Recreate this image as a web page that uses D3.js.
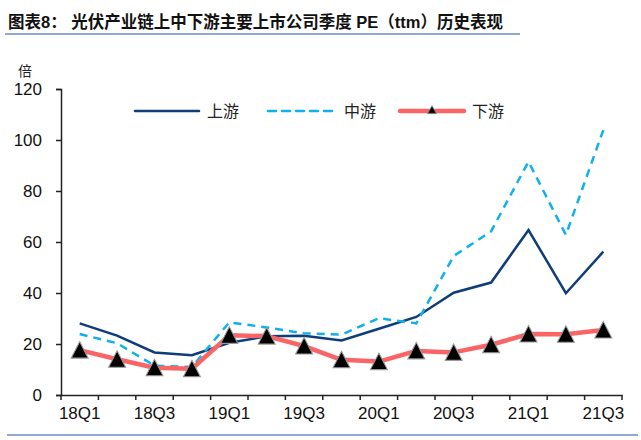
<!DOCTYPE html>
<html>
<head>
<meta charset="utf-8">
<script src="https://cdn.jsdelivr.net/npm/d3@7"></script>
<style>
  body { margin: 0; background: #fff; }
  svg { display: block; }
</style>
</head>
<body>
<div id="chart"></div>
<script>
// Données
const quarters = ["18Q1","18Q2","18Q3","18Q4","19Q1","19Q2","19Q3","19Q4","20Q1","20Q2","20Q3","20Q4","21Q1","21Q2","21Q3"];
const upstream   = [28.1, 23.3, 16.7, 15.6, 20.5, 23.0, 23.2, 21.4, 26.0, 30.6, 40.1, 44.1, 64.7, 39.9, 56.2];
const midstream  = [23.9, 20.3, 11.5, 11.0, 28.5, 26.5, 24.2, 23.7, 30.1, 28.1, 54.5, 64.2, 91.5, 62.8, 103.9];
const downstream = [17.6, 14.0, 10.7, 10.3, 23.4, 23.1, 19.2, 13.8, 13.1, 17.3, 16.7, 19.7, 23.9, 23.8, 25.5];
const yTicks = [0, 20, 40, 60, 80, 100, 120];
const seriesNames = ["上游", "中游", "下游"];

const width = 641, height = 440;
const svg = d3.select("#chart").append("svg")
    .attr("width", width)
    .attr("height", height);

const x = d3.scaleBand().domain(quarters).range([61, 622]);
const y = d3.scaleLinear().domain([0, 120]).range([395, 89]);
const cx = d => x(d) + x.bandwidth() / 2;

// Titre
svg.append("text")
    .attr("x", 8)
    .attr("y", 28)
    .style("font-family", "'Liberation Sans', 'Noto Sans CJK SC', sans-serif")
    .style("font-weight", "bold")
    .style("font-size", "16.5px")
    .attr("fill", "#111")
    .text("图表8：  光伏产业链上中下游主要上市公司季度 PE（ttm）历史表现");

svg.append("line")
    .attr("x1", 5).attr("x2", 520)
    .attr("y1", 34).attr("y2", 34)
    .attr("stroke", "#6b8cc0").attr("stroke-width", 1.5);

svg.append("line")
    .attr("x1", 7).attr("x2", 638)
    .attr("y1", 435).attr("y2", 435)
    .attr("stroke", "#6b8cc0").attr("stroke-width", 1.5);

// Unité
svg.append("text")
    .attr("x", 25).attr("y", 76)
    .attr("text-anchor", "middle")
    .style("font-family", "'Noto Sans CJK SC', sans-serif")
    .style("font-size", "14px")
    .attr("fill", "#222")
    .text("倍");

// Axe Y
const yAxis = svg.append("g")
    .attr("transform", "translate(61,0)")
    .call(d3.axisLeft(y).tickValues(yTicks).tickSize(5).tickPadding(14));
yAxis.select(".domain").attr("stroke", "#222").attr("stroke-width", 1.5);
yAxis.selectAll(".tick line").attr("stroke", "#222").attr("stroke-width", 1.5);
yAxis.selectAll("text")
    .style("font-family", "'Liberation Sans', Arial, sans-serif")
    .style("font-size", "17px")
    .attr("fill", "#111");

// Axe X
const xAxis = svg.append("g")
    .attr("transform", "translate(0,395)")
    .call(d3.axisBottom(x).tickSize(0).tickPadding(12)
        .tickFormat((d, i) => i % 2 === 0 ? d : ""));
xAxis.select(".domain").attr("stroke", "#222").attr("stroke-width", 1.5);
xAxis.selectAll("text")
    .style("font-family", "'Liberation Sans', Arial, sans-serif")
    .style("font-size", "17px")
    .attr("fill", "#111");

// petits traits entre les catégories
const bounds = quarters.map(q => x(q)).concat([x.range()[1]]);
xAxis.selectAll(".bound")
    .data(bounds)
    .enter().append("line")
    .attr("class", "bound")
    .attr("x1", d => d).attr("x2", d => d)
    .attr("y1", 0).attr("y2", 5)
    .attr("stroke", "#222").attr("stroke-width", 1.5);

const line = d3.line().x((d, i) => cx(quarters[i])).y(d => y(d));

// Séries
svg.append("path")
    .datum(upstream)
    .attr("d", line)
    .attr("fill", "none")
    .attr("stroke", "#0f3d7a")
    .attr("stroke-width", 2.5);

svg.append("path")
    .datum(midstream)
    .attr("d", line)
    .attr("fill", "none")
    .attr("stroke", "#0fb0ee")
    .attr("stroke-width", 2.5)
    .attr("stroke-dasharray", "8,6");

svg.append("path")
    .datum(downstream)
    .attr("d", line)
    .attr("fill", "none")
    .attr("stroke", "#fa6464")
    .attr("stroke-width", 4.5)
    .attr("stroke-linejoin", "round");

const tri = d3.symbol().type(d3.symbolTriangle).size(125);
svg.selectAll(".marker")
    .data(downstream)
    .enter().append("path")
    .attr("class", "marker")
    .attr("d", tri)
    .attr("transform", (d, i) => `translate(${cx(quarters[i])},${y(d) + 2.5}) scale(1,1.12)`)
    .attr("fill", "#000")
    .attr("stroke", "#999")
    .attr("stroke-width", 1);

// Légende
const legend = svg.append("g").attr("transform", "translate(0,111)");
const legendItems = [
    { x: 135, color: "#0f3d7a", w: 2.5, dash: null },
    { x: 268, color: "#0fb0ee", w: 2.5, dash: "8,6" },
    { x: 400, color: "#fa6464", w: 4.5, dash: null }
];
legendItems.forEach((it, i) => {
    legend.append("line")
        .attr("x1", it.x).attr("x2", it.x + 64)
        .attr("y1", 0).attr("y2", 0)
        .attr("stroke", it.color)
        .attr("stroke-width", it.w)
        .attr("stroke-linecap", "round")
        .attr("stroke-dasharray", it.dash);
    legend.append("text")
        .attr("x", it.x + 72 + (i === 1 ? 4 : 0))
        .attr("y", 6)
        .style("font-family", "'Noto Sans CJK SC', sans-serif")
        .style("font-size", "16px")
        .attr("fill", "#222")
        .text(seriesNames[i]);
});
legend.append("path")
    .attr("d", d3.symbol().type(d3.symbolTriangle).size(36))
    .attr("transform", "translate(432,0)")
    .attr("fill", "#000")
    .attr("stroke", "#999")
    .attr("stroke-width", 0.8);
</script>
</body>
</html>
